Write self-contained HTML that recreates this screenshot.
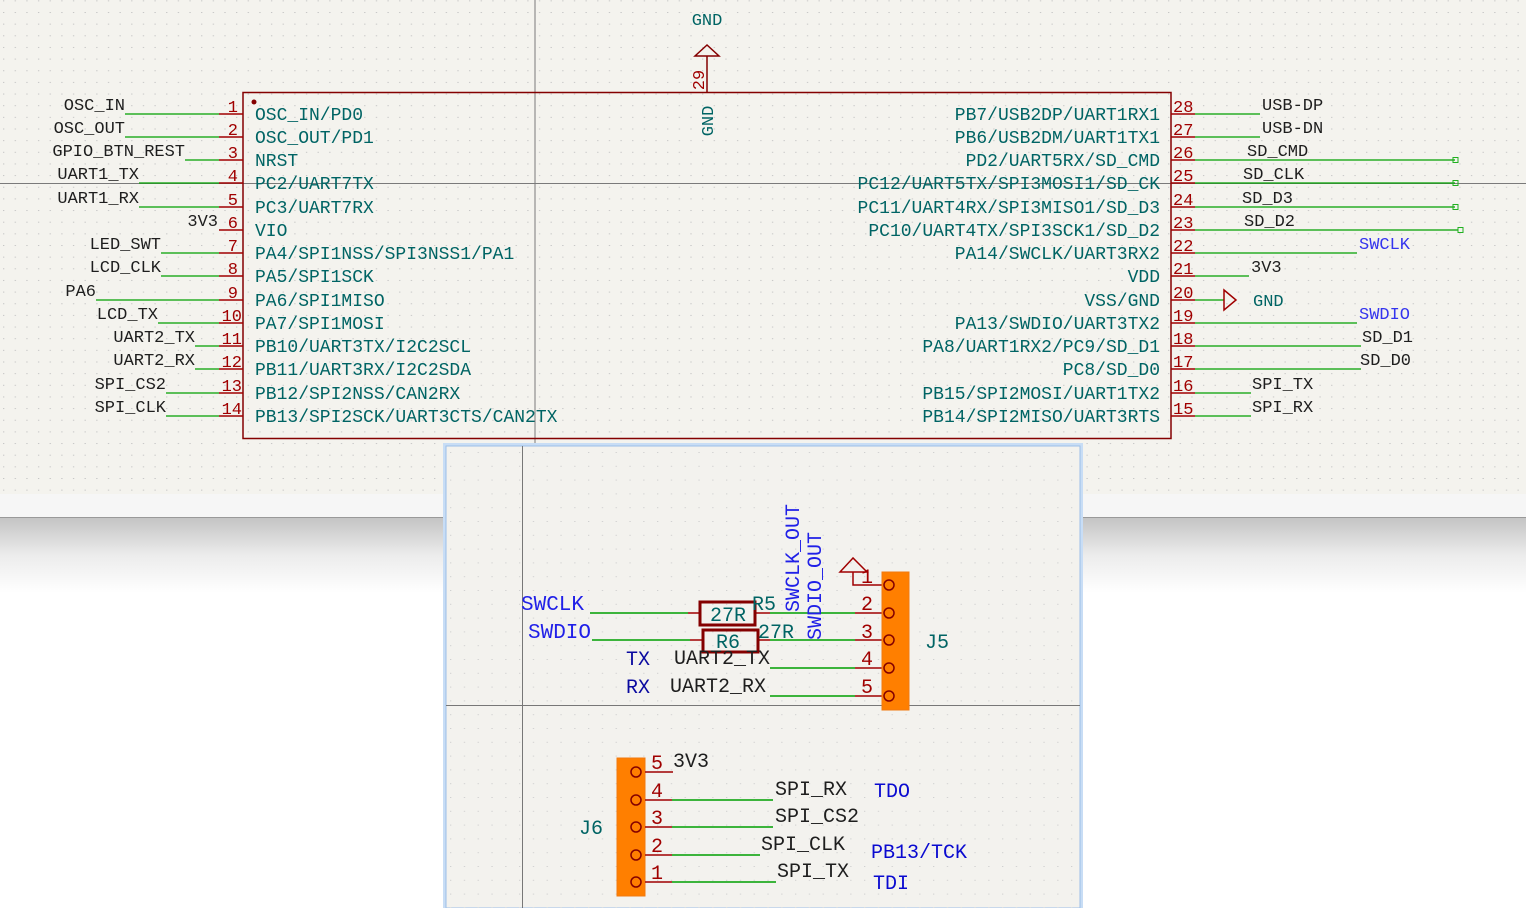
<!DOCTYPE html>
<html><head><meta charset="utf-8"><style>
html,body{margin:0;padding:0;background:#fff;}
svg{display:block;}
text{font-family:"Liberation Mono","DejaVu Sans Mono",monospace;}
</style></head><body>
<svg width="1526" height="908" viewBox="0 0 1526 908" xmlns="http://www.w3.org/2000/svg">
<defs>
<pattern id="dots" x="3" y="12" width="11.65" height="11.65" patternUnits="userSpaceOnUse">
<rect x="0" y="0" width="1.3" height="1" fill="#c4c4c4"/>
</pattern>
<pattern id="dots2" x="450" y="452" width="13.8" height="13.8" patternUnits="userSpaceOnUse">
<rect x="0" y="0" width="1.3" height="1" fill="#d0d0d0"/>
</pattern>
<linearGradient id="shade" x1="0" y1="0" x2="0" y2="1">
<stop offset="0" stop-color="#c4c4c4"/>
<stop offset="0.5" stop-color="#ececec"/>
<stop offset="1" stop-color="#ffffff"/>
</linearGradient>
</defs>
<rect x="0" y="0" width="1526" height="494" fill="#f4f3ee"/>
<rect x="0" y="0" width="1526" height="494" fill="url(#dots)"/>
<rect x="0" y="494" width="1526" height="23" fill="#f6f6f6"/>
<rect x="0" y="517" width="1526" height="1" fill="#999"/>
<rect x="0" y="518" width="1526" height="75" fill="url(#shade)"/>
<line x1="535" y1="0" x2="535" y2="446" stroke="#7a7a7a" stroke-width="1"/>
<line x1="0" y1="183.5" x2="1526" y2="183.5" stroke="#7a7a7a" stroke-width="1"/>

<text x="707" y="25" font-size="17" fill="#006464" text-anchor="middle">GND</text>
<polygon points="707,45 695,56 719,56" fill="none" stroke="#840000" stroke-width="1.5"/>
<line x1="707" y1="56" x2="707" y2="92" stroke="#840000" stroke-width="1.5"/>
<text transform="translate(704,80) rotate(-90)" font-size="17" fill="#a00000" text-anchor="middle">29</text>
<text transform="translate(713,121) rotate(-90)" font-size="17" fill="#006464" text-anchor="middle">GND</text>

<rect x="243" y="92.5" width="928" height="346" fill="none" stroke="#840000" stroke-width="1.5"/>
<circle cx="254" cy="102" r="2.5" fill="#840000"/>

<g font-size="17">
<g stroke="#00a000" stroke-width="1.3">
<line x1="125" y1="114" x2="219" y2="114"/>
<line x1="125" y1="137" x2="219" y2="137"/>
<line x1="185" y1="160" x2="219" y2="160"/>
<line x1="139" y1="183" x2="219" y2="183"/>
<line x1="139" y1="207" x2="219" y2="207"/>
<line x1="161" y1="253" x2="219" y2="253"/>
<line x1="161" y1="276" x2="219" y2="276"/>
<line x1="96" y1="300" x2="219" y2="300"/>
<line x1="158" y1="323" x2="219" y2="323"/>
<line x1="195" y1="346" x2="219" y2="346"/>
<line x1="195" y1="369" x2="219" y2="369"/>
<line x1="166" y1="393" x2="219" y2="393"/>
<line x1="166" y1="416" x2="219" y2="416"/>
</g>
<g stroke="#a00000" stroke-width="1.5">
<line x1="219" y1="114" x2="243" y2="114"/><line x1="219" y1="137" x2="243" y2="137"/>
<line x1="219" y1="160" x2="243" y2="160"/><line x1="219" y1="183" x2="243" y2="183"/>
<line x1="219" y1="207" x2="243" y2="207"/><line x1="219" y1="230" x2="243" y2="230"/>
<line x1="219" y1="253" x2="243" y2="253"/><line x1="219" y1="276" x2="243" y2="276"/>
<line x1="219" y1="300" x2="243" y2="300"/><line x1="219" y1="323" x2="243" y2="323"/>
<line x1="219" y1="346" x2="243" y2="346"/><line x1="219" y1="369" x2="243" y2="369"/>
<line x1="219" y1="393" x2="243" y2="393"/><line x1="219" y1="416" x2="243" y2="416"/>
<line x1="1171" y1="114" x2="1195" y2="114"/><line x1="1171" y1="137" x2="1195" y2="137"/>
<line x1="1171" y1="160" x2="1195" y2="160"/><line x1="1171" y1="183" x2="1195" y2="183"/>
<line x1="1171" y1="207" x2="1195" y2="207"/><line x1="1171" y1="230" x2="1195" y2="230"/>
<line x1="1171" y1="253" x2="1195" y2="253"/><line x1="1171" y1="276" x2="1195" y2="276"/>
<line x1="1171" y1="300" x2="1195" y2="300"/><line x1="1171" y1="323" x2="1195" y2="323"/>
<line x1="1171" y1="346" x2="1195" y2="346"/><line x1="1171" y1="369" x2="1195" y2="369"/>
<line x1="1171" y1="393" x2="1195" y2="393"/><line x1="1171" y1="416" x2="1195" y2="416"/>
</g>
<g fill="#1e1e1e" text-anchor="end">
<text x="125" y="110">OSC_IN</text>
<text x="125" y="133">OSC_OUT</text>
<text x="185" y="156">GPIO_BTN_REST</text>
<text x="139" y="179">UART1_TX</text>
<text x="139" y="203">UART1_RX</text>
<text x="218" y="226">3V3</text>
<text x="161" y="249">LED_SWT</text>
<text x="161" y="272">LCD_CLK</text>
<text x="96" y="296">PA6</text>
<text x="158" y="319">LCD_TX</text>
<text x="195" y="342">UART2_TX</text>
<text x="195" y="365">UART2_RX</text>
<text x="166" y="389">SPI_CS2</text>
<text x="166" y="412">SPI_CLK</text>
</g>
<g fill="#a00000" text-anchor="end">
<text x="238" y="112">1</text><text x="238" y="135">2</text><text x="238" y="158">3</text>
<text x="238" y="181">4</text><text x="238" y="205">5</text><text x="238" y="228">6</text>
<text x="238" y="251">7</text><text x="238" y="274">8</text><text x="238" y="298">9</text>
<text x="242" y="321">10</text><text x="242" y="344">11</text><text x="242" y="367">12</text>
<text x="242" y="391">13</text><text x="242" y="414">14</text>
</g>
<g fill="#006464" font-size="18">
<text x="255" y="120">OSC_IN/PD0</text>
<text x="255" y="143">OSC_OUT/PD1</text>
<text x="255" y="166">NRST</text>
<text x="255" y="189">PC2/UART7TX</text>
<text x="255" y="213">PC3/UART7RX</text>
<text x="255" y="236">VIO</text>
<text x="255" y="259">PA4/SPI1NSS/SPI3NSS1/PA1</text>
<text x="255" y="282">PA5/SPI1SCK</text>
<text x="255" y="306">PA6/SPI1MISO</text>
<text x="255" y="329">PA7/SPI1MOSI</text>
<text x="255" y="352">PB10/UART3TX/I2C2SCL</text>
<text x="255" y="375">PB11/UART3RX/I2C2SDA</text>
<text x="255" y="399">PB12/SPI2NSS/CAN2RX</text>
<text x="255" y="422">PB13/SPI2SCK/UART3CTS/CAN2TX</text>
</g>
<g fill="#006464" text-anchor="end" font-size="18">
<text x="1160" y="120">PB7/USB2DP/UART1RX1</text>
<text x="1160" y="143">PB6/USB2DM/UART1TX1</text>
<text x="1160" y="166">PD2/UART5RX/SD_CMD</text>
<text x="1160" y="189">PC12/UART5TX/SPI3MOSI1/SD_CK</text>
<text x="1160" y="213">PC11/UART4RX/SPI3MISO1/SD_D3</text>
<text x="1160" y="236">PC10/UART4TX/SPI3SCK1/SD_D2</text>
<text x="1160" y="259">PA14/SWCLK/UART3RX2</text>
<text x="1160" y="282">VDD</text>
<text x="1160" y="306">VSS/GND</text>
<text x="1160" y="329">PA13/SWDIO/UART3TX2</text>
<text x="1160" y="352">PA8/UART1RX2/PC9/SD_D1</text>
<text x="1160" y="375">PC8/SD_D0</text>
<text x="1160" y="399">PB15/SPI2MOSI/UART1TX2</text>
<text x="1160" y="422">PB14/SPI2MISO/UART3RTS</text>
</g>
<g fill="#a00000">
<text x="1173" y="112">28</text><text x="1173" y="135">27</text><text x="1173" y="158">26</text>
<text x="1173" y="181">25</text><text x="1173" y="205">24</text><text x="1173" y="228">23</text>
<text x="1173" y="251">22</text><text x="1173" y="274">21</text><text x="1173" y="298">20</text>
<text x="1173" y="321">19</text><text x="1173" y="344">18</text><text x="1173" y="367">17</text>
<text x="1173" y="391">16</text><text x="1173" y="414">15</text>
</g>
<g stroke="#00a000" stroke-width="1.3">
<line x1="1195" y1="114" x2="1260" y2="114"/>
<line x1="1195" y1="137" x2="1260" y2="137"/>
<line x1="1195" y1="160" x2="1455" y2="160"/>
<line x1="1195" y1="183" x2="1455" y2="183"/>
<line x1="1195" y1="207" x2="1455" y2="207"/>
<line x1="1195" y1="230" x2="1458" y2="230"/>
<line x1="1195" y1="253" x2="1357" y2="253"/>
<line x1="1195" y1="276" x2="1249" y2="276"/>
<line x1="1195" y1="300" x2="1224" y2="300"/>
<line x1="1195" y1="323" x2="1357" y2="323"/>
<line x1="1195" y1="346" x2="1361" y2="346"/>
<line x1="1195" y1="369" x2="1361" y2="369"/>
<line x1="1195" y1="393" x2="1251" y2="393"/>
<line x1="1195" y1="416" x2="1251" y2="416"/>
</g>
<g fill="none" stroke="#20b020" stroke-width="1">
<rect x="1453" y="157.5" width="5" height="5"/>
<rect x="1453" y="180.5" width="5" height="5"/>
<rect x="1453" y="204.5" width="5" height="5"/>
<rect x="1458" y="227.5" width="5" height="5"/>
</g>
<polygon points="1224,290 1236,300 1224,310" fill="none" stroke="#a00000" stroke-width="1.5"/>
<g fill="#1e1e1e">
<text x="1262" y="110">USB-DP</text>
<text x="1262" y="133">USB-DN</text>
<text x="1247" y="156">SD_CMD</text>
<text x="1243" y="179">SD_CLK</text>
<text x="1242" y="203">SD_D3</text>
<text x="1244" y="226">SD_D2</text>
<text x="1251" y="272">3V3</text>
<text x="1362" y="342">SD_D1</text>
<text x="1360" y="365">SD_D0</text>
<text x="1252" y="389">SPI_TX</text>
<text x="1252" y="412">SPI_RX</text>
</g>
<text x="1253" y="306" fill="#006464">GND</text>
<g fill="#3434ee">
<text x="1359" y="249">SWCLK</text>
<text x="1359" y="319">SWDIO</text>
</g>
</g>

<rect x="444.5" y="444.5" width="637" height="470" fill="none" stroke="#c8ddf5" stroke-width="3"/>
<rect x="446" y="446" width="634" height="462" fill="#f3f2ee" stroke="#9cbfe8" stroke-width="1"/>
<rect x="446" y="446" width="634" height="462" fill="url(#dots2)"/>
<line x1="522.5" y1="446" x2="522.5" y2="908" stroke="#777" stroke-width="1"/>
<line x1="446" y1="705.5" x2="1080" y2="705.5" stroke="#777" stroke-width="1"/>

<g font-size="20">
<g stroke="#00a000" stroke-width="1.5">
<line x1="590" y1="613" x2="688" y2="613"/>
<line x1="592" y1="640" x2="690" y2="640"/>
<line x1="770" y1="613" x2="855" y2="613"/>
<line x1="770" y1="640" x2="855" y2="640"/>
<line x1="770" y1="668" x2="855" y2="668"/>
<line x1="770" y1="696" x2="855" y2="696"/>
</g>
<g stroke="#a00000" stroke-width="1.5">
<line x1="688" y1="613" x2="700" y2="613"/>
<line x1="690" y1="640" x2="703" y2="640"/>
<line x1="755" y1="613" x2="770" y2="613"/>
<line x1="758" y1="640" x2="770" y2="640"/>
<line x1="855" y1="613" x2="882" y2="613"/>
<line x1="855" y1="640" x2="882" y2="640"/>
<line x1="855" y1="668" x2="882" y2="668"/>
<line x1="855" y1="696" x2="882" y2="696"/>
<polyline points="853,572 853,585 882,585" fill="none"/>
<polygon points="853,558 840,572 867,572" fill="none"/>
</g>
<rect x="700" y="602" width="55" height="23" fill="none" stroke="#840000" stroke-width="3"/>
<rect x="703" y="630" width="55" height="22" fill="none" stroke="#840000" stroke-width="3"/>
<rect x="882" y="572" width="27" height="138" fill="#ff7f00" stroke="#f07a10" stroke-width="1"/>
<g fill="none" stroke="#840000" stroke-width="1.5">
<circle cx="889" cy="585" r="5"/><circle cx="889" cy="613" r="5"/><circle cx="889" cy="640" r="5"/>
<circle cx="889" cy="668" r="5"/><circle cx="889" cy="696" r="5"/>
</g>
<g fill="#a00000">
<text x="861" y="583">1</text>
<text x="861" y="610">2</text>
<text x="861" y="638">3</text>
<text x="861" y="665">4</text>
<text x="861" y="693">5</text>
</g>
<g fill="#2020e8">
<text x="521" y="610" font-size="21">SWCLK</text>
<text x="528" y="638" font-size="21">SWDIO</text>
<text transform="translate(799,612) rotate(-90)" font-size="20">SWCLK_OUT</text>
<text transform="translate(821,640) rotate(-90)" font-size="20">SWDIO_OUT</text>
</g>
<g fill="#0a0aa0">
<text x="626" y="665">TX</text>
<text x="626" y="693">RX</text>
</g>
<g fill="#006464">
<text x="710" y="621">27R</text>
<text x="752" y="610">R5</text>
<text x="758" y="638">27R</text>
<text x="716" y="648">R6</text>
<text x="925" y="648">J5</text>
<text x="579" y="834">J6</text>
</g>
<g fill="#1e1e1e">
<text x="674" y="664">UART2_TX</text>
<text x="670" y="692">UART2_RX</text>
</g>

<rect x="617" y="758" width="28" height="138" fill="#ff7f00" stroke="#f07a10" stroke-width="1"/>
<g fill="none" stroke="#840000" stroke-width="1.5">
<circle cx="636" cy="772" r="5"/><circle cx="636" cy="800" r="5"/><circle cx="636" cy="827" r="5"/>
<circle cx="636" cy="855" r="5"/><circle cx="636" cy="882" r="5"/>
</g>
<g stroke="#a00000" stroke-width="1.5">
<line x1="645" y1="772" x2="673" y2="772"/>
<line x1="645" y1="800" x2="672" y2="800"/>
<line x1="645" y1="827" x2="672" y2="827"/>
<line x1="645" y1="855" x2="672" y2="855"/>
<line x1="645" y1="882" x2="672" y2="882"/>
</g>
<g stroke="#00a000" stroke-width="1.5">
<line x1="672" y1="800" x2="773" y2="800"/>
<line x1="672" y1="827" x2="773" y2="827"/>
<line x1="672" y1="855" x2="760" y2="855"/>
<line x1="672" y1="882" x2="776" y2="882"/>
</g>
<g fill="#a00000">
<text x="651" y="769">5</text>
<text x="651" y="797">4</text>
<text x="651" y="824">3</text>
<text x="651" y="852">2</text>
<text x="651" y="879">1</text>
</g>
<g fill="#1e1e1e">
<text x="673" y="767">3V3</text>
<text x="775" y="795">SPI_RX</text>
<text x="775" y="822">SPI_CS2</text>
<text x="761" y="850">SPI_CLK</text>
<text x="777" y="877">SPI_TX</text>
</g>
<g fill="#0a0ad0">
<text x="874" y="797">TDO</text>
<text x="871" y="858">PB13/TCK</text>
<text x="873" y="889">TDI</text>
</g>
</g>
</svg>
</body></html>
